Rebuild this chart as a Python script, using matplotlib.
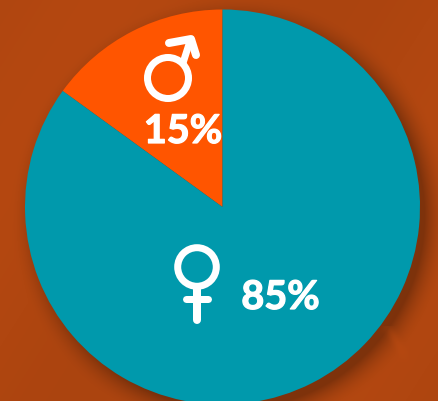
import numpy as np
import matplotlib
matplotlib.use("Agg")
import matplotlib.pyplot as plt
from matplotlib.patches import Circle
import matplotlib.patheffects as pe

shares = [15, 85]
labels = ["15%", "85%"]
colors = ["#FF5500", "#0099AC"]

W, H = 438, 401
CX, CY, R = 222.5, 207, 197.5
fig = plt.figure(figsize=(W / 100, H / 100), dpi=100)
ax = fig.add_axes([0, 0, 1, 1])

# background: burnt orange with soft variation, shadow and a faint light streak
yy, xx = np.mgrid[0:H, 0:W]
base = np.array([0xB0, 0x46, 0x10]) / 255
var = 1 + 0.025 * np.sin(xx / 70.0 + yy / 110.0)
d = np.hypot(xx - (CX + 8), yy - (CY + 8)) - R
shade = np.clip(1 - (d + 4) / 28.0, 0, 1) ** 2 * 0.30
t = np.clip(((xx - 388) * 66 + (yy - 328) * 23) / (66**2 + 23**2), 0, 1)
sd = np.hypot(xx - (388 + 23 * t), yy - (328 + 66 * t))
streak = np.exp(-(sd / 6.0) ** 2) * 0.10 * ((yy > 325) & (yy < 398))
bg = base[None, None, :] * var[..., None] * (1 - shade[..., None]) * (1 + streak[..., None])
ax.imshow(np.clip(bg, 0, 1), extent=(0, W, -H, 0), origin="upper", zorder=0)

ax.pie(shares, colors=colors, startangle=90, counterclock=True,
       center=(CX, -CY), radius=R, wedgeprops=dict(linewidth=0, zorder=2))
ax.set_aspect("equal")
ax.set_xlim(0, W)
ax.set_ylim(-H, 0)
ax.axis("off")

LW = 7 * 0.72
line = dict(color="white", lw=LW, solid_capstyle="round", solid_joinstyle="round", zorder=4)

# male symbol
ax.add_patch(Circle((168, -78), 20.5, fc="none", ec="white", lw=LW, zorder=4))
ax.plot([183, 190], [-63, -41], **line)
ax.plot([169, 191, 196], [-43, -39, -55], **{**line, "lw": 8 * 0.72})

# female symbol
ax.add_patch(Circle((197, -267), 19.3, fc="none", ec="white", lw=LW, zorder=4))
ax.plot([197, 197], [-287, -320], **{**line, "lw": 8 * 0.72})
ax.plot([186, 208], [-299, -299], **line)

font = dict(family="Lato", weight="bold", size=28.5, color="white", zorder=5,
            path_effects=[pe.withStroke(linewidth=0.9, foreground="white")])
ax.text(183, -143, labels[0], ha="center", va="baseline", **font)
ax.text(280.5, -309, labels[1], ha="center", va="baseline", **font)

fig.savefig("out.png", dpi=100)
